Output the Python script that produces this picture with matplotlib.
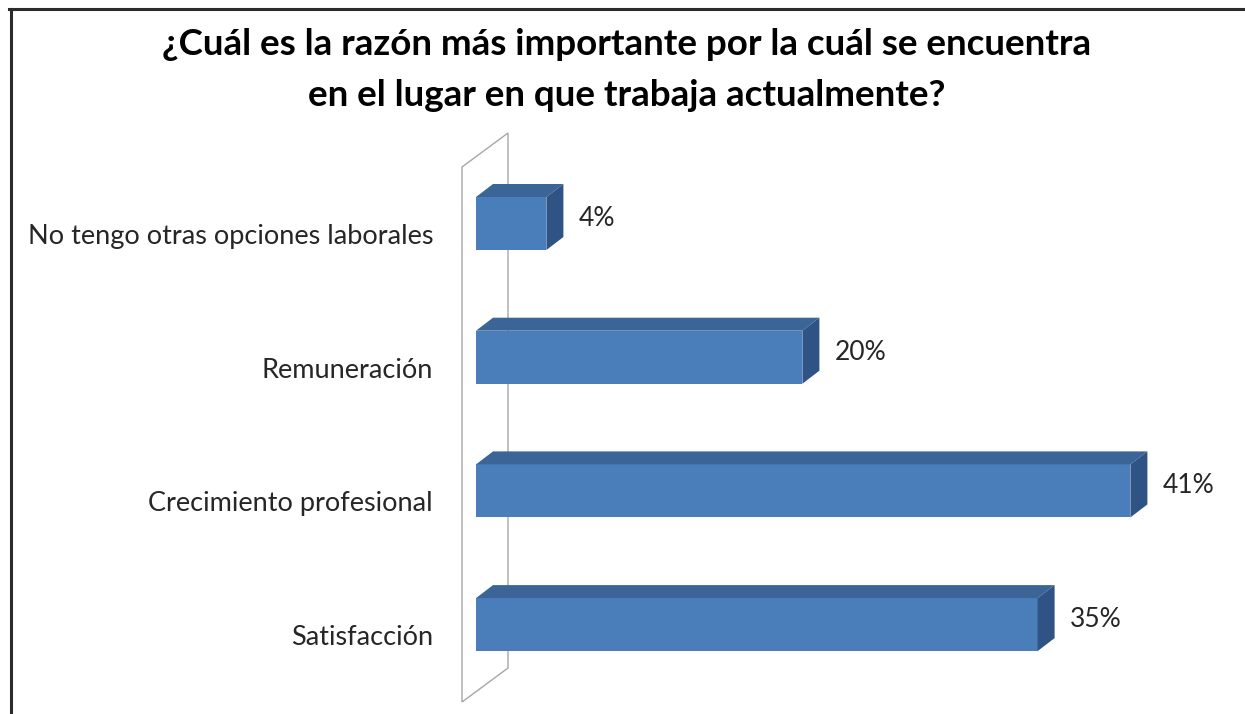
import matplotlib
matplotlib.use("Agg")
from matplotlib import pyplot as plt
from matplotlib.patches import Polygon, Rectangle
from matplotlib.lines import Line2D

# Datos (de arriba hacia abajo)
categorias = [
    "No tengo otras opciones laborales",
    "Remuneración",
    "Crecimiento profesional",
    "Satisfacción",
]
valores = [4.4, 20.4, 40.9, 35.1]
titulo = "¿Cuál es la razón más importante por la cuál se encuentra\nen el lugar en que trabaja actualmente?"

W, H = 1245, 714
PX_PCT = 16.0      # pixeles por punto porcentual
PX_ROW = 133.7     # pixeles entre categorías

fig = plt.figure(figsize=(W / 100, H / 100), dpi=100)
fig.patch.set_facecolor("white")

# eje principal: x en %, y en índice de categoría
left, right, top, bottom = 476, 1245, 133, 702
ax = fig.add_axes([left / W, 1 - bottom / H, (right - left) / W, (bottom - top) / H])
ax.set_xlim(0, (right - left) / PX_PCT)
ax.set_ylim((bottom - 223.5) / PX_ROW, (top - 223.5) / PX_ROW)
ax.axis("off")

dx = 17 / PX_PCT
dy = 13 / PX_ROW
h = 26.5 / PX_ROW

# pared lateral
wx0, wx1 = -14 / PX_PCT, 32 / PX_PCT
wt0, wt1 = (167 - 223.5) / PX_ROW, (133 - 223.5) / PX_ROW
wb0, wb1 = (702 - 223.5) / PX_ROW, (668 - 223.5) / PX_ROW
ax.add_patch(Polygon([(wx0, wt0), (wx1, wt1), (wx1, wb1), (wx0, wb0)],
                     closed=True, facecolor="white", edgecolor="#a6a6a6",
                     lw=1.0, clip_on=False, zorder=1))

c_front = "#4a7ebb"
c_top = "#3c6597"
c_side = "#2f5385"

for i, (cat, v) in enumerate(zip(categorias, valores)):
    y0, y1 = i - h, i + h
    ax.add_patch(Rectangle((0, y0), v, y1 - y0, facecolor=c_front,
                           edgecolor="none", clip_on=False, zorder=3))
    ax.add_patch(Polygon([(0, y0), (v, y0), (v + dx, y0 - dy), (dx, y0 - dy)],
                         closed=True, facecolor=c_top, edgecolor="none",
                         clip_on=False, zorder=3))
    ax.add_patch(Polygon([(v, y0), (v + dx, y0 - dy), (v + dx, y1 - dy), (v, y1)],
                         closed=True, facecolor=c_side, edgecolor="none",
                         clip_on=False, zorder=3))
    ax.text(v + dx + 0.95, i - 5 / PX_ROW, "%d%%" % round(v), ha="left",
            va="center", fontsize=19, family="Lato", color="#262626",
            clip_on=False)
    ax.text(-43 / PX_PCT, i + 13 / PX_ROW, cat, ha="right", va="center",
            fontsize=19.5, family="Lato", color="#262626", clip_on=False)

fig.text(0.503, 1 - 70 / H, titulo, ha="center", va="center",
         fontsize=26.5, fontweight="bold", family="Lato", color="black",
         linespacing=1.7)

# borde del gráfico
fig.add_artist(Line2D([9 / W, 1], [1 - 9 / H, 1 - 9 / H], color="#2b2b2b", lw=2.2))
fig.add_artist(Line2D([10.5 / W, 10.5 / W], [0, 1 - 9 / H], color="#2b2b2b", lw=2.2))

fig.savefig("out.png", dpi=100)
